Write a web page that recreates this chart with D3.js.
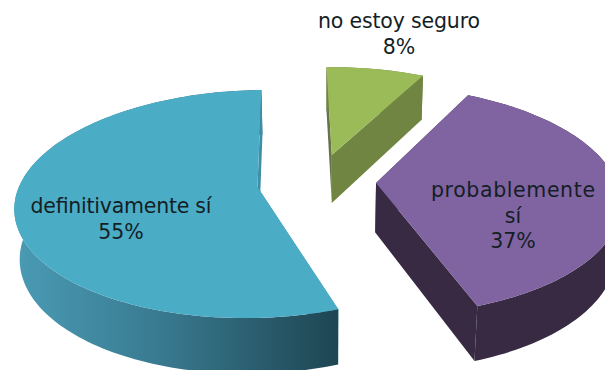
<!DOCTYPE html>
<html>
<head>
<meta charset="utf-8">
<style>
  html, body { margin: 0; padding: 0; background: #fff; overflow: hidden; }
  svg { display: block; }
  text { font-family: "DejaVu Sans", sans-serif; font-size: 20.5px; fill: #141e25; }
</style>
<script src="https://cdn.jsdelivr.net/npm/d3@7"></script>
</head>
<body>
<svg id="chart" width="605" height="370"></svg>
<script>
// Survey answers, clockwise from the lower-right edge of the largest slice
const categories = ["definitivamente sí", "no estoy seguro", "probablemente sí"];
const shares = [55, 8, 37];
const labelLines = [["definitivamente sí", "55%"], ["no estoy seguro", "8%"], ["probablemente", "sí", "37%"]];

const topColors = ["#4bacc6", "#9bbb59", "#8064a2"];
const wallColors = ["#3f8ea8", "#6f8541", "#372a42"];
const edgeColors = ["#3f8ea8", "#66744a", "#372a42"];

// Each slice: ground-plane shift when pulled out of the pie, and its radius
const sliceShift = [[-0.304, 0], [0.008, -0.30], [0.194, -0.036]];
const sliceRadius = [1, 0.98, 1.015];

// Line anchors: centre x, first baseline y; the long first lines get a fixed width
const labelAnchor = [[121, 213], [399, 28], [513, 197]];
const firstLineWidth = [181, 162, 164];
const lineStep = 25.5;

// Perspective camera: ground plane to screen, seen from above and in front
const tilt = 0.149;      // foreshortening along the depth axis
const dropScale = 0.017; // shrink of the lower rim
const dropShift = 0.453; // height of the pie wall, in ground units
const x = d3.scaleLinear().domain([0, 1]).range([330, 568.6]);
const y = d3.scaleLinear().domain([0, 1]).range([187, 298.5]);

function project(gx, gy, drop) {
  const w = 1 - tilt * gy + dropScale * drop;
  return [x(gx / w), y((gy + dropShift * drop) / w)];
}

const svg = d3.select("#chart");
const defs = svg.append("defs");
const grad = defs.append("linearGradient").attr("id", "blueWall");
grad.append("stop").attr("offset", "0").attr("stop-color", "#4a9bb5");
grad.append("stop").attr("offset", "0.45").attr("stop-color", "#397a90");
grad.append("stop").attr("offset", "1").attr("stop-color", "#1e4552");

const line = d3.line();
const pie = d3.pie().sort(null)
  .startAngle(160.5 * Math.PI / 180)
  .endAngle((160.5 + 360) * Math.PI / 180);
const arcs = pie(shares);

// Ground point on the rim of slice i at a clockwise angle from twelve o'clock
function rim(i, a) {
  const [sx, sy] = sliceShift[i];
  const r = sliceRadius[i];
  return [sx + r * Math.sin(a), sy - r * Math.cos(a)];
}

function rimAngles(d) {
  const n = Math.ceil((d.endAngle - d.startAngle) * 40);
  return d3.range(n + 1).map(k => d.startAngle + (d.endAngle - d.startAngle) * k / n);
}

arcs.forEach((d, i) => {
  const g = svg.append("g").attr("class", "slice").attr("data-category", categories[i]);
  const apex = sliceShift[i];
  const angles = rimAngles(d);
  const rimPts = angles.map(a => rim(i, a));

  const face = (pts) => [...pts.map(p => project(p[0], p[1], 0)),
                         ...pts.slice().reverse().map(p => project(p[0], p[1], 1))];

  // Leading radial wall, curved outer wall, trailing radial wall, all under the top face
  g.append("path")
    .attr("d", line(face([apex, rimPts[0]])) + "Z")
    .attr("fill", edgeColors[i]);
  g.append("path")
    .attr("d", line(face(rimPts)) + "Z")
    .attr("fill", i === 0 ? "url(#blueWall)" : wallColors[i]);
  g.append("path")
    .attr("d", line(face([apex, rimPts[rimPts.length - 1]])) + "Z")
    .attr("fill", wallColors[i]);

  // Top face
  g.append("path")
    .attr("d", line([apex, ...rimPts].map(p => project(p[0], p[1], 0))) + "Z")
    .attr("fill", topColors[i]);
});

// Two-part category and percentage labels
labelLines.forEach((lines, i) => {
  const t = svg.append("text").attr("text-anchor", "middle");
  lines.forEach((s, k) => {
    const span = t.append("tspan")
      .attr("x", labelAnchor[i][0])
      .attr("y", labelAnchor[i][1] + k * lineStep)
      .text(s);
    if (k === 0) span.attr("textLength", firstLineWidth[i]).attr("lengthAdjust", "spacing");
  });
});
</script>
</body>
</html>
